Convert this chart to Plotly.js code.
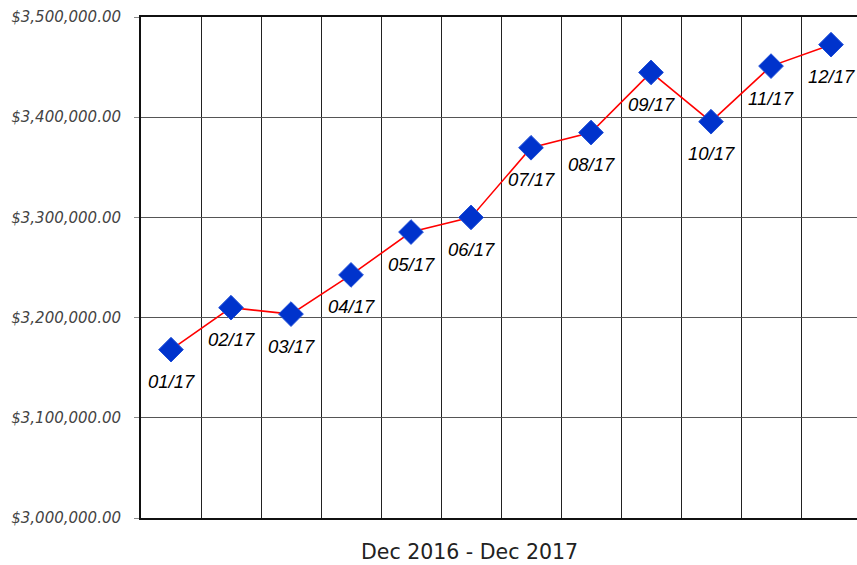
<!DOCTYPE html>
<html>
<head>
<meta charset="utf-8">
<script src="https://cdn.plot.ly/plotly-3.0.1.min.js"></script>
<style>html,body{margin:0;padding:0;background:#fff;}#chart{width:857px;height:565px;}</style>
</head>
<body>
<div id="chart"></div>
<script>
var monthLabels = ['01/17','02/17','03/17','04/17','05/17','06/17','07/17','08/17','09/17','10/17','11/17','12/17'];
var monthIndex = [0,1,2,3,4,5,6,7,8,9,10,11];
var balances = [3168000, 3209900, 3203500, 3242600, 3285400, 3300000, 3369500, 3384700, 3444700, 3395500, 3451000, 3472400];
var axisTitle = 'Dec 2016 - Dec 2017';

var trace = {
  x: monthIndex,
  y: balances,
  mode: 'lines+markers',
  type: 'scatter',
  line: {color: '#ff0000', width: 1.6},
  marker: {symbol: 'diamond', size: 19, color: '#0033cc', line: {color: '#1f4fd8', width: 1}},
  hoverinfo: 'none',
  cliponaxis: false
};

var labelAnnotations = monthIndex.map(function (xi, i) {
  return {
    x: xi, y: balances[i], xref: 'x', yref: 'y',
    text: monthLabels[i], showarrow: false,
    xanchor: 'center', yanchor: 'middle', yshift: -32,
    font: {family: 'Liberation Sans, Arial, sans-serif', size: 18.5, style: 'italic', color: '#000'}
  };
});

var layout = {
  width: 857, height: 565,
  margin: {l: 141, r: 0, t: 17, b: 47},
  paper_bgcolor: '#fff', plot_bgcolor: '#fff',
  showlegend: false,
  xaxis: {
    range: [-0.5, 11.433],
    tick0: -0.5, dtick: 1, tickmode: 'linear',
    showticklabels: false, ticks: '',
    showgrid: true, gridcolor: '#222', gridwidth: 1,
    zeroline: false,
    showline: true, linecolor: '#111', linewidth: 2, mirror: true
  },
  yaxis: {
    range: [3000000, 3500000],
    tick0: 3000000, dtick: 100000, tickmode: 'linear',
    tickformat: '$,.2f',
    tickfont: {family: 'DejaVu Sans, sans-serif', size: 15, style: 'italic', color: '#444'},
    ticks: 'outside', ticklen: 5, tickcolor: '#888', tickwidth: 1,
    ticklabelstandoff: 10,
    showgrid: true, gridcolor: '#555', gridwidth: 1,
    zeroline: false,
    showline: true, linecolor: '#111', linewidth: 2
  },
  annotations: labelAnnotations.concat([{
    text: axisTitle,
    xref: 'paper', yref: 'paper',
    x: (469.5 - 141) / 716, y: -0.067,
    xanchor: 'center', yanchor: 'middle',
    showarrow: false,
    font: {family: 'DejaVu Sans, sans-serif', size: 20.5, color: '#222'}
  }])
};

Plotly.newPlot('chart', [trace], layout, {staticPlot: true, displayModeBar: false});
</script>
</body>
</html>
